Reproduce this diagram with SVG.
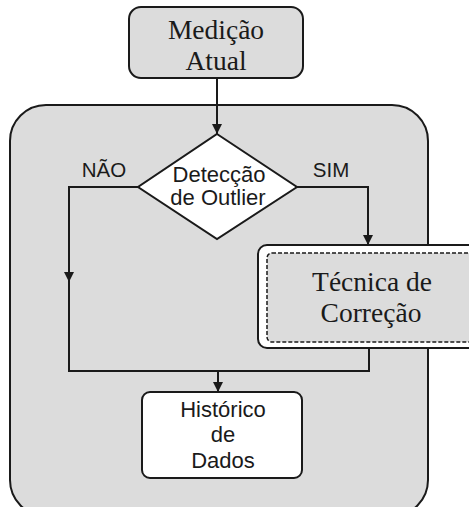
<svg xmlns="http://www.w3.org/2000/svg" width="469" height="507" viewBox="0 0 469 507">
<style>
.serif{font-family:"Liberation Serif","Times New Roman",serif;font-size:27.5px;fill:#1a1a1a;text-anchor:middle}
.sans{font-family:"Liberation Sans",Arial,sans-serif;fill:#1a1a1a;text-anchor:middle}
.ln{fill:none;stroke:#1a1a1a;stroke-width:2}
</style>
<defs>
<marker id="ah" viewBox="0 0 10 10" refX="10" refY="5" markerWidth="10" markerHeight="10" markerUnits="userSpaceOnUse" orient="auto">
<path d="M0,0 L10,5 L0,10 Z" fill="#1a1a1a"/>
</marker>
</defs>
<rect width="469" height="507" fill="#fff"/>
<g id="container">
<rect x="10" y="105" width="418" height="411" rx="36" fill="#dcdcdc" stroke="#1a1a1a" stroke-width="2"/>
</g>
<g id="connectors">
<path class="ln" d="M217,78 V134" marker-end="url(#ah)"/>
<path class="ln" d="M138,187 H69 V282" marker-end="url(#ah)"/>
<path class="ln" d="M69,282 V371 H369 V348"/>
<path class="ln" d="M297,187 H368 V245" marker-end="url(#ah)"/>
<path class="ln" d="M218,371 V392" marker-end="url(#ah)"/>
</g>
<g id="medicao">
<rect x="129" y="7" width="174" height="71" rx="12" fill="#dcdcdc" stroke="#1a1a1a" stroke-width="2"/>
<text class="serif" x="216" y="39">Medição</text>
<text class="serif" x="216" y="70">Atual</text>
</g>
<g id="deteccao">
<polygon points="217,134 297,187 217,239 138,187" fill="#fff" stroke="#1a1a1a" stroke-width="2"/>
<text class="sans" x="219" y="182" font-size="22">Detecção</text>
<text class="sans" x="218" y="205" font-size="22">de Outlier</text>
<text class="sans" x="104" y="177" font-size="20.5">NÃO</text>
<text class="sans" x="331" y="177" font-size="20.5">SIM</text>
</g>
<g id="tecnica">
<rect x="258" y="245" width="225" height="103" rx="9" fill="#fff" stroke="#1a1a1a" stroke-width="2"/>
<rect x="267" y="253" width="210" height="89" rx="5" fill="#dcdcdc" stroke="#1a1a1a" stroke-width="1.5" stroke-dasharray="4,2"/>
<text class="serif" x="372" y="291">Técnica de</text>
<text class="serif" x="371" y="322">Correção</text>
</g>
<g id="historico">
<rect x="142" y="392" width="160" height="86" rx="8" fill="#fff" stroke="#1a1a1a" stroke-width="2"/>
<text class="sans" x="223" y="417" font-size="22">Histórico</text>
<text class="sans" x="223" y="442" font-size="22">de</text>
<text class="sans" x="223" y="468" font-size="22">Dados</text>
</g>
</svg>
